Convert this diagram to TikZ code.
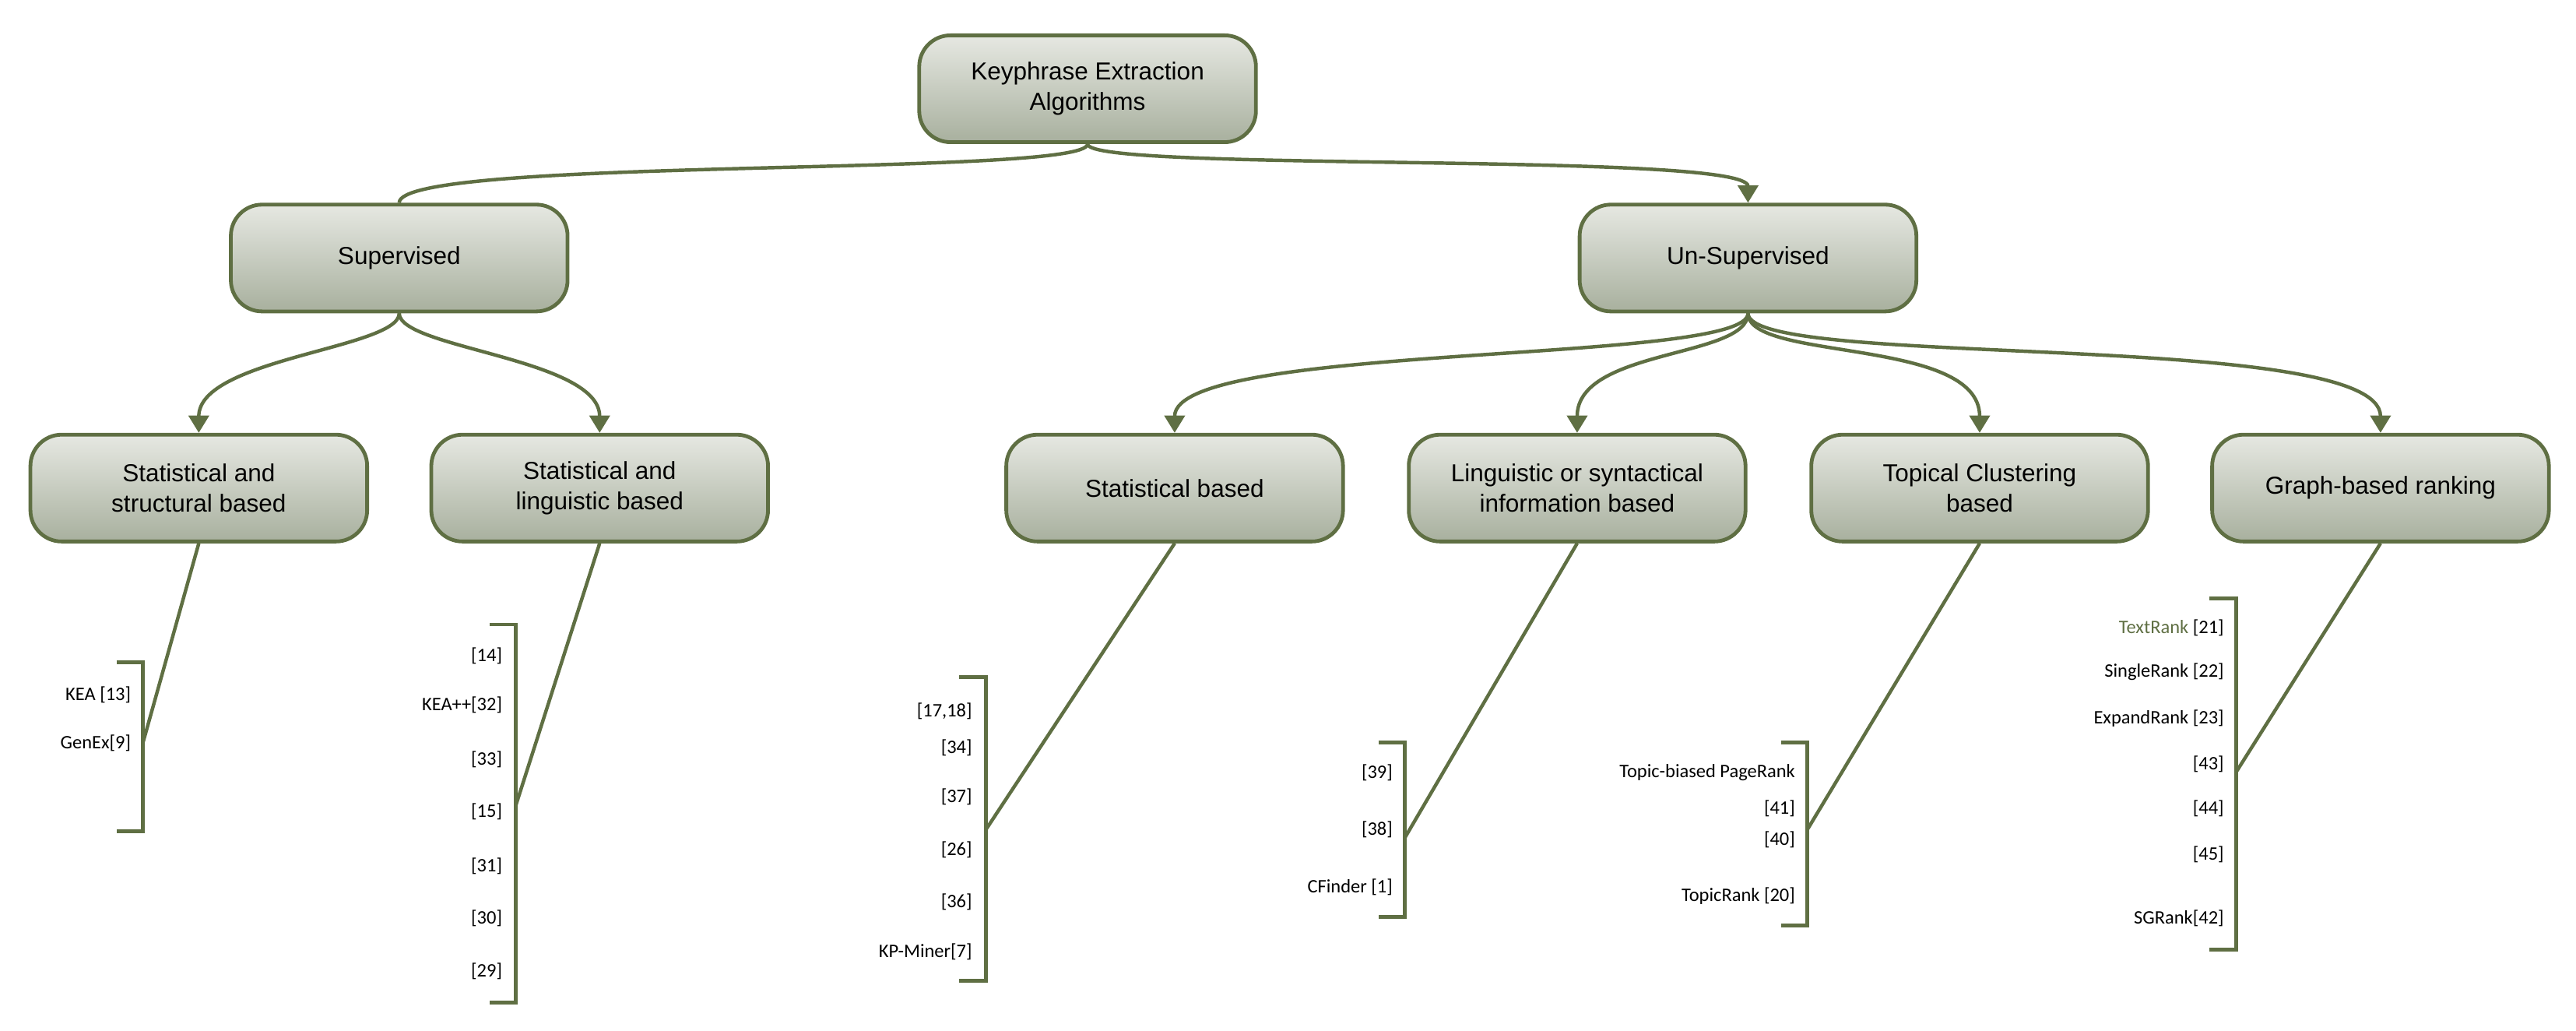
\documentclass[tikz,border=0pt]{standalone}
\usepackage{fontspec}
\setmainfont{Liberation Sans}
\newfontfamily\lab{Carlito}
\usetikzlibrary{arrows.meta}
\definecolor{olv}{HTML}{5F6F43}
\definecolor{gtop}{HTML}{E6E8E2}
\definecolor{gbot}{HTML}{A8B09E}
\begin{document}
\begin{tikzpicture}[x=0.02cm,y=-0.02cm,
 box/.style={draw=olv,line width=1.3pt,rounded corners=0.38cm,top color=gtop,bottom color=gbot,minimum width=4.1cm,minimum height=1.3cm,align=center,font=\fontsize{8.5}{10.5}\selectfont},
 con/.style={draw=olv,line width=1.2pt},
 arr/.style={con,-{Triangle[length=6pt,width=7pt]}},
 br/.style={draw=olv,line width=1.3pt},
 lb/.style={anchor=east,inner sep=0pt,font=\lab\fontsize{6.6}{8}\selectfont}]
\useasboundingbox (0,0) rectangle (1568,627);
\node[box] (root) at (662,54) {Keyphrase Extraction\\Algorithms};
\node[box] (sup) at (243,157) {Supervised};
\node[box] (uns) at (1064,157) {Un-Supervised};
\node[box] (a) at (121,297) {Statistical and\\structural based};
\node[box] (b) at (365,297) {Statistical and\\linguistic based};
\node[box] (c) at (715,297) {Statistical based};
\node[box] (d) at (960,297) {Linguistic or syntactical\\information based};
\node[box] (e) at (1205,297) {Topical Clustering\\based};
\node[box] (f) at (1449,297) {Graph-based ranking};
\draw[con] (root.south) .. controls (662,108) and (243,95) .. (sup.north);
\draw[arr] (root.south) .. controls (662,105) and (1064,92) .. (uns.north);
\draw[arr] (sup.south) .. controls (243,212) and (121,218) .. (a.north);
\draw[arr] (sup.south) .. controls (243,212) and (365,218) .. (b.north);
\draw[arr] (uns.south) .. controls (1064,222) and (715,208) .. (c.north);
\draw[arr] (uns.south) .. controls (1064,218) and (960,212) .. (d.north);
\draw[arr] (uns.south) .. controls (1064,220) and (1205,205) .. (e.north);
\draw[arr] (uns.south) .. controls (1064,225) and (1449,200) .. (f.north);
% brackets
\coordinate (ba) at (87,452); \coordinate (bb) at (314,490); \coordinate (bc) at (600,505);
\coordinate (bd) at (855,510); \coordinate (be) at (1100,505); \coordinate (bf) at (1361,470);
\draw[br] (71,403) -- (87,403) -- (87,506) -- (71,506);
\draw[br] (298,380) -- (314,380) -- (314,610) -- (298,610);
\draw[br] (584,412) -- (600,412) -- (600,597) -- (584,597);
\draw[br] (839,452) -- (855,452) -- (855,558) -- (839,558);
\draw[br] (1084,452) -- (1100,452) -- (1100,563) -- (1084,563);
\draw[br] (1345,364) -- (1361,364) -- (1361,578) -- (1345,578);
\draw[con] (a.south) -- (ba); \draw[con] (b.south) -- (bb); \draw[con] (c.south) -- (bc);
\draw[con] (d.south) -- (bd); \draw[con] (e.south) -- (be); \draw[con] (f.south) -- (bf);
% labels
\node[lb] (a1) at (80,423) {KEA [13]}; \node[lb] (a2) at (80,452) {GenEx[9]};
\node[lb] (b1) at (306,399) {[14]}; \node[lb] (b2) at (306,429) {KEA++[32]};
\node[lb] (b3) at (306,462) {[33]}; \node[lb] (b4) at (306,494) {[15]};
\node[lb] (b5) at (306,527) {[31]}; \node[lb] (b6) at (306,559) {[30]};
\node[lb] (b7) at (306,591) {[29]};
\node[lb] (c1) at (592,433) {[17,18]}; \node[lb] (c2) at (592,455) {[34]};
\node[lb] (c3) at (592,485) {[37]}; \node[lb] (c4) at (592,517) {[26]};
\node[lb] (c5) at (592,549) {[36]}; \node[lb] (c6) at (592,579) {KP-Miner[7]};
\node[lb] (d1) at (848,470) {[39]}; \node[lb] (d2) at (848,505) {[38]};
\node[lb] (d3) at (848,540) {CFinder [1]};
\node[lb] (e1) at (1093,470) {Topic-biased PageRank}; \node[lb] (e2) at (1093,492) {[41]};
\node[lb] (e3) at (1093,511) {[40]}; \node[lb] (e4) at (1093,545) {TopicRank [20]};
\node[lb] (f1) at (1354,382) {\textcolor{olv}{TextRank} [21]}; \node[lb] (f2) at (1354,409) {SingleRank [22]};
\node[lb] (f3) at (1354,437) {ExpandRank [23]}; \node[lb] (f4) at (1354,465) {[43]};
\node[lb] (f5) at (1354,492) {[44]}; \node[lb] (f6) at (1354,520) {[45]};
\node[lb] (f7) at (1354,559) {SGRank[42]};
\end{tikzpicture}
\end{document}
